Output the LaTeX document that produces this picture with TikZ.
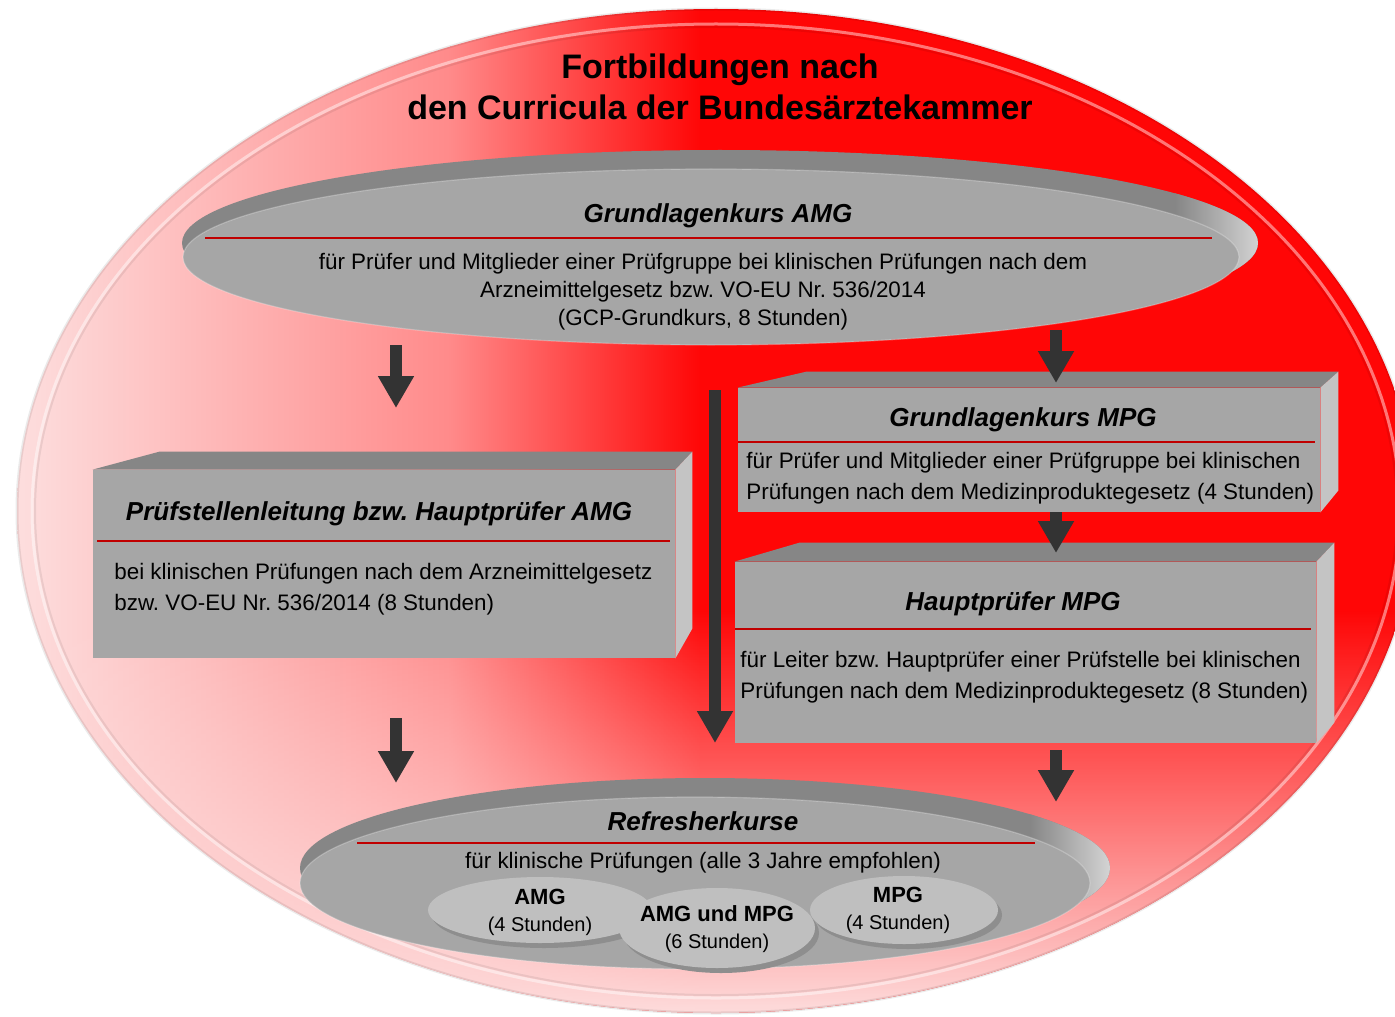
\documentclass[tikz,border=0pt]{standalone}
\usepackage{fontspec}
\setmainfont{Liberation Sans}
\usetikzlibrary{arrows.meta,fadings,shapes.geometric}
\frenchspacing

\definecolor{bgred}{HTML}{FF0606}
\definecolor{bgmid}{HTML}{FF8A8A}
\definecolor{bgpink}{HTML}{FDDEDE}
\definecolor{face}{HTML}{A6A6A6}
\definecolor{topface}{HTML}{868686}
\definecolor{sideface}{HTML}{C4C4C4}
\definecolor{rline}{HTML}{C00000}
\definecolor{arr}{HTML}{333333}
\definecolor{smallface}{HTML}{BFBFBF}
\definecolor{smallsh}{HTML}{8E8E8E}

\tikzfading[name=vfade, top color=transparent!100, bottom color=transparent!0]

\tikzset{
  blockarr/.style={draw=arr, line width=6pt, -{Triangle[width=17pt,length=16pt]}},
  redl/.style={draw=rline, line width=1pt},
  frontface/.style={rectangle, fill=face, inner sep=0pt},
  disc/.style={ellipse, fill=face, inner sep=0pt},
  smalldisc/.style={ellipse, fill=smallface, inner sep=0pt},
  ttl/.style={font=\fontsize{13}{15}\selectfont\bfseries\itshape, inner sep=0pt},
  body/.style={font=\fontsize{11.2}{14}\selectfont, align=center, inner sep=0pt},
  boxbody/.style={font=\fontsize{11.2}{15.5}\selectfont, align=left, anchor=west, inner sep=0pt},
  smalltxt/.style={font=\fontsize{10}{13.5}\selectfont, align=center, inner sep=0pt},
}

\begin{document}
\begin{tikzpicture}[x=0.5pt,y=-0.5pt]
\useasboundingbox (0,0) rectangle (1395,1016);

% big background ellipse
\begin{scope}
  \clip (716,511) ellipse [x radius=699, y radius=502];
  \shade[left color=bgpink, right color=bgmid] (17,0) rectangle (451,1016);
  \shade[left color=bgmid, right color=bgred] (450,0) rectangle (701,1016);
  \fill[bgred] (700,0) rectangle (1420,1016);
  \fill[bgpink, path fading=vfade] (0,610) rectangle (1420,1016);
\end{scope}
\draw[black, opacity=.08, line width=1.5pt] (716,511) ellipse [x radius=699, y radius=502];
\draw[white, opacity=.45, line width=1.5pt] (716,511) ellipse [x radius=684, y radius=487];
\draw[black, opacity=.07, line width=1pt] (716,511) ellipse [x radius=681, y radius=484];

% title
\node (title) at (720,87) [font=\fontsize{17}{20.5}\selectfont\bfseries, align=center, inner sep=0pt]
  {Fortbildungen nach\\den Curricula der Bundesärztekammer};

% top disc (Grundlagenkurs AMG)
\fill[topface] (720,243) ellipse [x radius=538, y radius=93];
\begin{scope}
  \clip (720,243) ellipse [x radius=538, y radius=93];
  \shade[left color=topface, right color=sideface!70!white] (1175,140) rectangle (1262,345);
\end{scope}
\node (ell1) [disc, minimum width=528pt, minimum height=88pt] at (711,257) {};
\draw[white, opacity=.25, line width=.6pt] (711,257) ellipse [x radius=528, y radius=88];
\node (ell1t) [ttl] at (718,216) {Grundlagenkurs AMG};
\draw[redl] (205,238) -- (1212,238);
\node (ell1b) [body] at (703,292)
  {für Prüfer und Mitglieder einer Prüfgruppe bei klinischen Prüfungen nach dem\\
   Arzneimittelgesetz bzw. VO-EU Nr. 536/2014\\(GCP-Grundkurs, 8 Stunden)};

% box 1
\node (b1) [frontface, minimum width=291pt, minimum height=94pt] at (384,564) {};
\fill[topface] (b1.north west) -- ++(67,-18) -- ([xshift=8.5pt,yshift=9pt]b1.north east) -- (b1.north east) -- cycle;
\fill[sideface] (b1.north east) -- ([xshift=8.5pt,yshift=9pt]b1.north east) -- ([xshift=8.5pt,yshift=15pt]b1.south east) -- (b1.south east) -- cycle;
\node (b1t) [ttl] at (379,514) {Prüfstellenleitung bzw. Hauptprüfer AMG};
\draw[redl] (97,541) -- (670,541);
\node (b1b) [boxbody] at (114,589.5)
  {bei klinischen Prüfungen nach dem Arzneimittelgesetz\\bzw. VO-EU Nr. 536/2014 (8 Stunden)};

% box 2
\node (b2) [frontface, minimum width=291pt, minimum height=62pt] at (1029,450) {};
\fill[topface] (b2.north west) -- ++(69,-16) -- ([xshift=9pt,yshift=8pt]b2.north east) -- (b2.north east) -- cycle;
\fill[sideface] (b2.north east) -- ([xshift=9pt,yshift=8pt]b2.north east) -- ([xshift=9pt,yshift=11pt]b2.south east) -- (b2.south east) -- cycle;
\node (b2t) [ttl] at (1023,420) {Grundlagenkurs MPG};
\draw[redl] (738,442) -- (1315,442);
\node (b2b) [boxbody] at (746,478.5)
  {für Prüfer und Mitglieder einer Prüfgruppe bei klinischen\\Prüfungen nach dem Medizinproduktegesetz (4 Stunden)};

% box 3
\node (b3) [frontface, minimum width=290.5pt, minimum height=90.5pt] at (1025.5,652.5) {};
\fill[topface] (b3.north west) -- ++(65,-19) -- ([xshift=9pt,yshift=9.5pt]b3.north east) -- (b3.north east) -- cycle;
\fill[sideface] (b3.north east) -- ([xshift=9pt,yshift=9.5pt]b3.north east) -- ([xshift=9pt,yshift=10.5pt]b3.south east) -- (b3.south east) -- cycle;
\node (b3t) [ttl] at (1013,604) {Hauptprüfer MPG};
\draw[redl] (735,629) -- (1311,629);
\node (b3b) [boxbody] at (740,677.5)
  {für Leiter bzw. Hauptprüfer einer Prüfstelle bei klinischen\\Prüfungen nach dem Medizinproduktegesetz (8 Stunden)};

% refresher disc
\fill[topface] (705,868) ellipse [x radius=405, y radius=90];
\begin{scope}
  \clip (705,868) ellipse [x radius=405, y radius=90];
  \shade[left color=topface, right color=sideface!70!white] (1030,770) rectangle (1112,965);
\end{scope}
\node (ell2) [disc, minimum width=395pt, minimum height=86pt] at (695,883) {};
\draw[white, opacity=.25, line width=.6pt] (695,883) ellipse [x radius=395, y radius=86];
\node (ell2t) [ttl] at (703,821) {Refresherkurse};
\draw[redl] (357,843) -- (1035,843);
\node (ell2b) [body] at (703,863) {für klinische Prüfungen (alle 3 Jahre empfohlen)};

% small discs
\fill[smallsh] (544,915) ellipse [x radius=112, y radius=33];
\node (s1) [smalldisc, minimum width=112pt, minimum height=33pt] at (540,910) {};
\fill[smallsh] (908,915) ellipse [x radius=94, y radius=34];
\node (s3) [smalldisc, minimum width=94pt, minimum height=34pt] at (904,910) {};
\fill[smallsh] (721,933) ellipse [x radius=98, y radius=40];
\node (s2) [smalldisc, minimum width=98pt, minimum height=40pt] at (717,928) {};
\node (s1t) [smalltxt] at (540,912) {{\fontsize{11}{13.5}\selectfont\bfseries AMG}\\(4 Stunden)};
\node (s2t) [smalltxt] at (717,929) {{\fontsize{11}{13.5}\selectfont\bfseries AMG und MPG}\\(6 Stunden)};
\node (s3t) [smalltxt] at (898,910) {{\fontsize{11}{13.5}\selectfont\bfseries MPG}\\(4 Stunden)};

% arrows
\coordinate (a1s) at (396,345); \coordinate (a1e) at (396,408);
\coordinate (a2s) at (1056,330); \coordinate (a2e) at (1056,383);
\coordinate (a3s) at (1056,512); \coordinate (a3e) at (1056,553);
\coordinate (a4s) at (715,390); \coordinate (a4e) at (715,743);
\coordinate (a5s) at (396,718); \coordinate (a5e) at (396,783);
\coordinate (a6s) at (1056,750); \coordinate (a6e) at (1056,802);
\draw[blockarr] (a1s) -- (a1e);
\draw[blockarr] (a2s) -- (a2e);
\draw[blockarr] (a3s) -- (a3e);
\draw[blockarr] (a4s) -- (a4e);
\draw[blockarr] (a5s) -- (a5e);
\draw[blockarr] (a6s) -- (a6e);
\end{tikzpicture}
\end{document}
